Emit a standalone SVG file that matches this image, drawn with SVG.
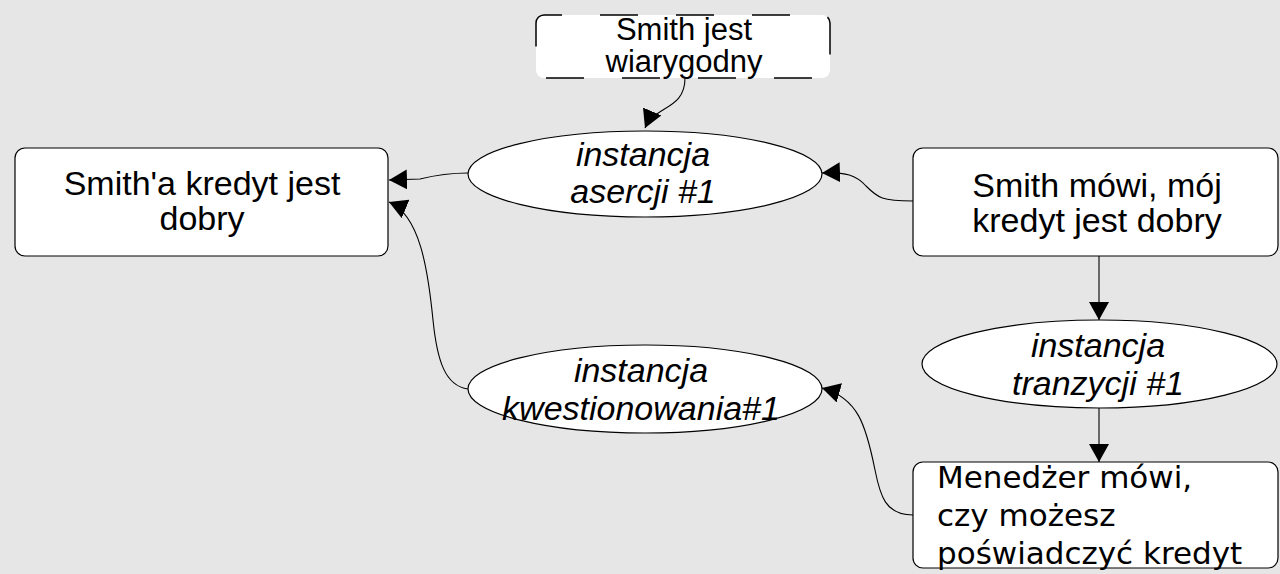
<svg xmlns="http://www.w3.org/2000/svg" width="1280" height="574" viewBox="0 0 1280 574">
<style>
.node{fill:#ffffff;stroke:#000000;stroke-width:1.2}
.dash{fill:#ffffff;stroke:#000000;stroke-width:1.5;stroke-dasharray:38 38;stroke-dashoffset:20}
.t{font-family:"Liberation Sans",Arial,sans-serif;font-size:34px;fill:#000;text-anchor:middle}
.ts{font-size:31px}
.i{font-style:italic}
.dj{font-family:"DejaVu Sans",sans-serif;font-size:31px;fill:#000}
.edge{fill:none;stroke:#000;stroke-width:1.1}
</style>
<defs>
<marker id="arr" markerWidth="18" markerHeight="20" refX="18" refY="10" orient="auto" markerUnits="userSpaceOnUse">
<path d="M0,0 L18,10 L0,20 z" fill="#000"/>
</marker>
</defs>
<rect x="0" y="0" width="1280" height="574" fill="#e6e6e6"/>
<g id="connectors">
<path class="edge" d="M 685 78 C 685 110, 655 105, 645 128" marker-end="url(#arr)"/>
<path class="edge" d="M 468 173 C 445 173, 432 176, 420 179 L 389 180" marker-end="url(#arr)"/>
<path class="edge" d="M 913 201 C 882 201, 878 198, 866 186 C 856 175, 846 172, 822 173" marker-end="url(#arr)"/>
<path class="edge" d="M 1099 256 L 1099 320" marker-end="url(#arr)"/>
<path class="edge" d="M 1099 408 L 1099 462" marker-end="url(#arr)"/>
<path class="edge" d="M 913 515 C 885 515, 880 495, 875 470 C 866 425, 858 398, 822 388" marker-end="url(#arr)"/>
<path class="edge" d="M 468 389 C 445 386, 437 360, 433 320 C 428 270, 420 215, 389 202" marker-end="url(#arr)"/>
</g>
<g id="node-smith-wiarygodny">
<rect class="dash" x="536" y="15" width="294" height="63" rx="8"/>
<text class="t ts" x="684" y="40">Smith jest</text>
<text class="t ts" x="684" y="72">wiarygodny</text>
</g>
<g id="node-kredyt-dobry">
<rect class="node" x="15" y="148" width="373" height="108" rx="10"/>
<text class="t" x="202" y="195">Smith'a kredyt jest</text>
<text class="t" x="202" y="230">dobry</text>
</g>
<g id="node-asercja">
<ellipse class="node" cx="645" cy="174" rx="177" ry="43"/>
<text class="t i" x="643" y="166">instancja</text>
<text class="t i" x="643" y="203">asercji #1</text>
</g>
<g id="node-smith-mowi">
<rect class="node" x="913" y="148" width="365" height="108" rx="10"/>
<text class="t" x="1097" y="197">Smith mówi, mój</text>
<text class="t" x="1097" y="232">kredyt jest dobry</text>
</g>
<g id="node-tranzycja">
<ellipse class="node" cx="1099.5" cy="364" rx="177.5" ry="44"/>
<text class="t i" x="1098" y="357">instancja</text>
<text class="t i" x="1098" y="395">tranzycji #1</text>
</g>
<g id="node-kwestionowanie">
<ellipse class="node" cx="645" cy="389" rx="177" ry="44"/>
<text class="t i" x="641" y="382">instancja</text>
<text class="t i" x="641" y="420">kwestionowania#1</text>
</g>
<g id="node-menedzer">
<rect class="node" x="913" y="462" width="365" height="106" rx="10"/>
<text class="dj" x="937" y="488">Menedżer mówi,</text>
<text class="dj" x="937" y="526">czy możesz</text>
<text class="dj" x="937" y="564">poświadczyć kredyt</text>
</g>
</svg>
